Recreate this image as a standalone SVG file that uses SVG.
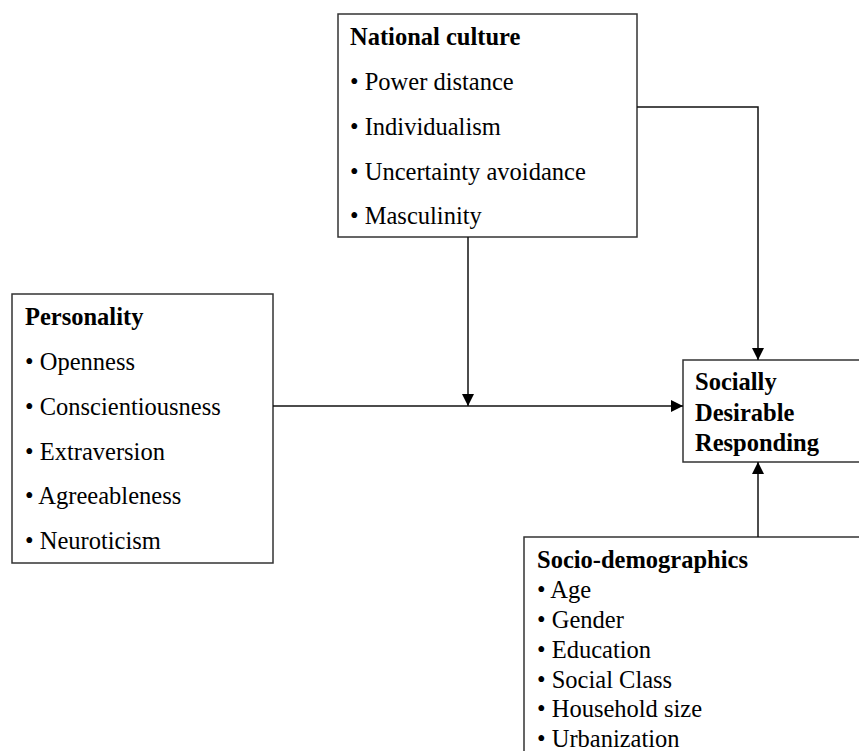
<svg xmlns="http://www.w3.org/2000/svg" width="859" height="751" viewBox="0 0 859 751">
<style>
.box{fill:#fff;stroke:#333;stroke-width:1.5}
.t{font-family:"Liberation Serif","Times New Roman",serif;font-size:24.5px;fill:#000}
.b{font-weight:bold}
.c{fill:none;stroke:#111;stroke-width:1.5}
</style>
<defs>
<marker id="ah" viewBox="0 0 12 12" refX="12" refY="6" markerWidth="12" markerHeight="12" markerUnits="userSpaceOnUse" orient="auto">
<path d="M0,0 L12,6 L0,12 Z" fill="#000"/>
</marker>
</defs>
<rect width="859" height="751" fill="#fff"/>
<g id="national-culture">
<rect class="box" x="338" y="14" width="299" height="223"/>
<text class="t b" x="350" y="45">National culture</text>
<text class="t" x="350" y="90">• Power distance</text>
<text class="t" x="350" y="135">• Individualism</text>
<text class="t" x="350" y="180">• Uncertainty avoidance</text>
<text class="t" x="350" y="224">• Masculinity</text>
</g>
<g id="personality">
<rect class="box" x="12" y="294" width="261" height="269"/>
<text class="t b" x="25" y="325">Personality</text>
<text class="t" x="25" y="370">• Openness</text>
<text class="t" x="25" y="415">• Conscientiousness</text>
<text class="t" x="25" y="460">• Extraversion</text>
<text class="t" x="25" y="504">• Agreeableness</text>
<text class="t" x="25" y="549">• Neuroticism</text>
</g>
<g id="sdr">
<rect class="box" x="683" y="360" width="190" height="102"/>
<text class="t b" x="695" y="390">Socially</text>
<text class="t b" x="695" y="421">Desirable</text>
<text class="t b" x="695" y="451">Responding</text>
</g>
<g id="socio-demographics">
<rect class="box" x="524" y="537" width="350" height="230"/>
<text class="t b" x="537" y="568">Socio-demographics</text>
<text class="t" x="537" y="598">• Age</text>
<text class="t" x="537" y="628">• Gender</text>
<text class="t" x="537" y="658">• Education</text>
<text class="t" x="537" y="688">• Social Class</text>
<text class="t" x="537" y="717">• Household size</text>
<text class="t" x="537" y="747">• Urbanization</text>
</g>
<g id="connectors">
<path class="c" d="M273,406 H683" marker-end="url(#ah)"/>
<path class="c" d="M468,237 V406" marker-end="url(#ah)"/>
<path class="c" d="M637,107 H758 V360" marker-end="url(#ah)"/>
<path class="c" d="M758,537 V462" marker-end="url(#ah)"/>
</g>
</svg>
